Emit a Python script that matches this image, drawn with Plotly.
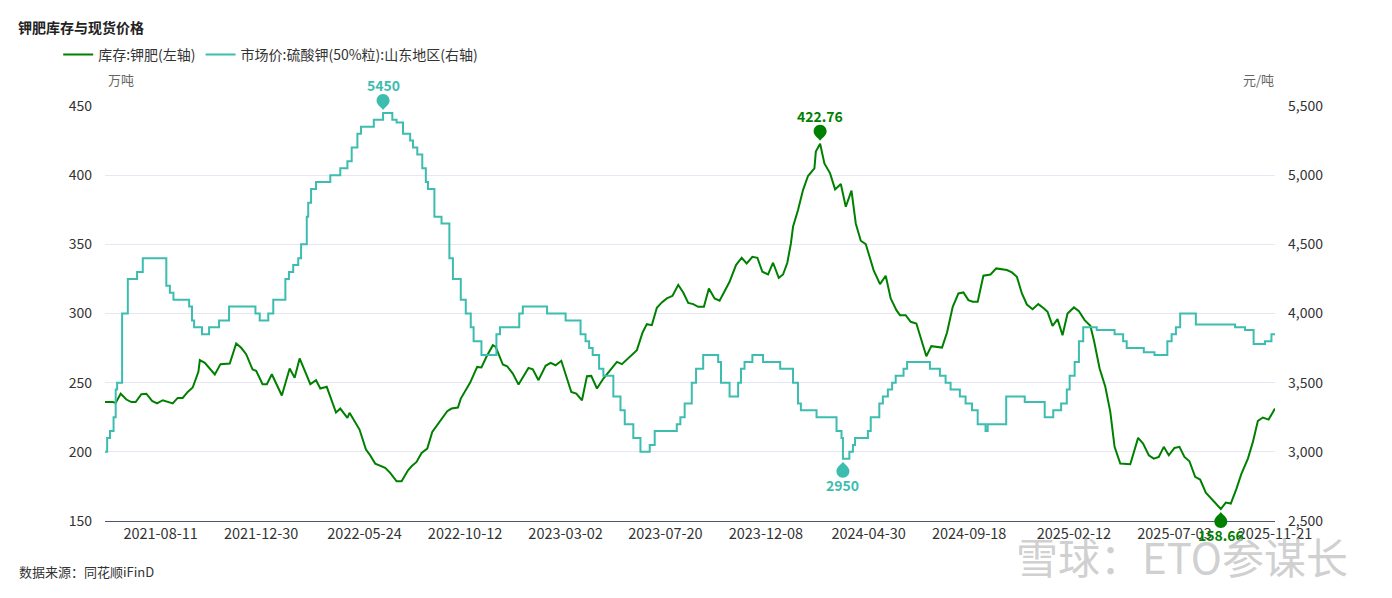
import plotly.graph_objects as go

# ---------------- data ----------------
inv_dates = [
    "2021-05-25", "2021-06-05", "2021-06-09", "2021-06-16", "2021-06-24", "2021-07-01", "2021-07-07",
    "2021-07-15", "2021-07-22", "2021-07-30", "2021-08-06", "2021-08-14", "2021-08-28", "2021-09-04",
    "2021-09-11", "2021-09-18", "2021-09-25", "2021-10-03", "2021-10-05", "2021-10-12", "2021-10-26",
    "2021-11-03", "2021-11-16", "2021-11-25", "2021-12-02", "2021-12-09", "2021-12-18", "2021-12-23",
    "2022-01-01", "2022-01-07", "2022-01-14", "2022-01-21", "2022-01-28", "2022-02-08", "2022-02-15",
    "2022-02-22", "2022-03-01", "2022-03-09", "2022-03-17", "2022-03-23", "2022-04-01", "2022-04-14",
    "2022-04-20", "2022-04-30", "2022-05-03", "2022-05-17", "2022-05-26", "2022-05-31", "2022-06-08",
    "2022-06-22", "2022-06-29", "2022-07-08", "2022-07-15", "2022-07-24", "2022-07-29", "2022-08-05",
    "2022-08-12", "2022-08-20", "2022-08-27", "2022-09-04", "2022-09-17", "2022-09-23", "2022-10-02",
    "2022-10-06", "2022-10-19", "2022-10-29", "2022-11-04", "2022-11-11", "2022-11-20", "2022-11-24",
    "2022-12-04", "2022-12-10", "2022-12-18", "2022-12-26", "2023-01-02", "2023-01-09", "2023-01-15",
    "2023-01-23", "2023-02-02", "2023-02-09", "2023-02-16", "2023-02-24", "2023-03-10", "2023-03-17",
    "2023-03-25", "2023-04-01", "2023-04-07", "2023-04-15", "2023-04-24", "2023-05-03", "2023-05-13",
    "2023-05-20", "2023-05-28", "2023-06-10", "2023-06-18", "2023-06-24", "2023-07-01", "2023-07-08",
    "2023-07-15", "2023-07-22", "2023-07-30", "2023-08-07", "2023-08-14", "2023-08-21", "2023-08-28",
    "2023-09-04", "2023-09-12", "2023-09-19", "2023-09-27", "2023-10-04", "2023-10-18", "2023-10-27",
    "2023-11-04", "2023-11-11", "2023-11-19", "2023-11-26", "2023-12-03", "2023-12-11", "2023-12-18",
    "2023-12-26", "2024-01-01", "2024-01-07", "2024-01-12", "2024-01-15", "2024-01-22", "2024-01-29",
    "2024-02-05", "2024-02-14", "2024-02-16", "2024-02-22", "2024-02-28", "2024-03-07", "2024-03-14",
    "2024-03-22", "2024-03-29", "2024-04-06", "2024-04-12", "2024-04-19", "2024-04-26", "2024-05-07",
    "2024-05-16", "2024-05-24", "2024-05-31", "2024-06-08", "2024-06-13", "2024-06-21", "2024-06-28",
    "2024-07-06", "2024-07-20", "2024-07-27", "2024-08-11", "2024-08-18", "2024-08-26", "2024-09-03",
    "2024-09-10", "2024-09-17", "2024-09-23", "2024-09-30", "2024-10-08", "2024-10-18", "2024-10-26",
    "2024-11-10", "2024-11-17", "2024-11-24", "2024-12-01", "2024-12-08", "2024-12-16", "2024-12-24",
    "2025-01-01", "2025-01-06", "2025-01-13", "2025-01-20", "2025-01-27", "2025-02-03", "2025-02-12",
    "2025-02-19", "2025-02-27", "2025-03-07", "2025-03-12", "2025-03-20", "2025-03-28", "2025-04-04",
    "2025-04-10", "2025-04-18", "2025-05-02", "2025-05-06", "2025-05-13", "2025-05-20", "2025-05-28",
    "2025-06-04", "2025-06-11", "2025-06-18", "2025-06-25", "2025-07-03", "2025-07-10", "2025-07-17",
    "2025-07-24", "2025-08-01", "2025-08-08", "2025-08-16", "2025-08-23", "2025-09-06", "2025-09-13",
    "2025-09-20", "2025-09-28", "2025-10-05", "2025-10-14", "2025-10-21", "2025-10-28", "2025-11-04",
    "2025-11-12", "2025-11-21",
]
inv_values = [
    236, 236, 235.4, 242, 237.8, 236, 236,
    241.7, 242, 236.8, 235, 237.3, 235, 239,
    239, 243.3, 246.5, 257.8, 266.3, 264.3, 255.9,
    263.4, 263.8, 278.3, 275.2, 270.6, 259.5, 258.5,
    248.9, 248.9, 256.1, 248.2, 240.7, 260.2, 253.5,
    267.5, 258.3, 248.9, 251.8, 245.8, 247, 228.4,
    231.3, 224.5, 228.2, 216.1, 201.6, 198.2, 191.5,
    188.4, 184.8, 178.7, 178.7, 186.7, 189.6, 192.7,
    199.2, 202.3, 214.4, 220.4, 229.4, 231.3, 232,
    238.5, 249.9, 261.4, 261, 268.7, 277.1, 275.9,
    263.1, 261.9, 256.6, 248.6, 254.2, 260.7, 259.7,
    251.8, 262.2, 264.3, 262.6, 265.8, 243.3, 242.1,
    237.3, 254.7, 254.9, 245.8, 253, 258.5, 265,
    263.4, 267.5, 273.5, 286.3, 292.3, 291.6, 304.1,
    308, 310.9, 312.8, 320.7, 315.2, 307.7, 306.8,
    304.8, 304.8, 318.1, 310.9, 309.2, 322.9, 335,
    340.3, 336.2, 341, 340.3, 330.2, 328.2, 336.7,
    325.8, 328.2, 336.7, 350.6, 362.7, 374.8, 389.2,
    399.4, 404.9, 417, 422.76, 408.5, 401.3, 389.7,
    393.6, 377.2, 388.8, 365.1, 352.6, 350.2, 331.4,
    321.2, 327.3, 310.9, 302.4, 298.8, 298.8, 294,
    292.8, 269.1, 276.4, 275.4, 286.3, 304.8, 314.5,
    315.2, 309.7, 308.5, 308.5, 327.3, 328.2, 332.6,
    331.4, 329.7, 326.5, 314.5, 306.5, 303.1, 306.8,
    303.6, 301.2, 291.1, 295.9, 284.3, 300, 304.4,
    301.7, 295.2, 291.1, 280.7, 260.2, 247, 228.9,
    203.6, 191.5, 191, 198.7, 210.1, 206, 197.5,
    195.1, 196.3, 203.6, 197.5, 202.8, 203.6, 196.3,
    193.2, 181.9, 180, 170.5, 166.7, 158.66, 163.3,
    162.6, 173.4, 184.3, 195.1, 207.2, 222.4, 224.8,
    223.3, 231.3,
]

price_dates = [
    "2021-05-25", "2021-05-28", "2021-06-01", "2021-06-06", "2021-06-09", "2021-06-11", "2021-06-18",
    "2021-06-26", "2021-07-09", "2021-07-17", "2021-08-19", "2021-08-24", "2021-08-29", "2021-09-20",
    "2021-09-24", "2021-09-27", "2021-10-08", "2021-10-18", "2021-11-01", "2021-11-15", "2021-12-22",
    "2021-12-28", "2022-01-09", "2022-01-16", "2022-02-02", "2022-02-07", "2022-02-13", "2022-02-20",
    "2022-02-24", "2022-03-04", "2022-03-06", "2022-03-10", "2022-03-17", "2022-04-06", "2022-04-20",
    "2022-04-30", "2022-05-06", "2022-05-14", "2022-05-19", "2022-06-06", "2022-06-19", "2022-07-02",
    "2022-07-08", "2022-07-17", "2022-07-27", "2022-07-31", "2022-08-06", "2022-08-13", "2022-08-18",
    "2022-08-21", "2022-08-30", "2022-09-09", "2022-09-20", "2022-09-25", "2022-10-06", "2022-10-13",
    "2022-10-20", "2022-10-24", "2022-11-04", "2022-11-25", "2022-11-30", "2022-12-27", "2023-01-01",
    "2023-02-04", "2023-03-02", "2023-03-23", "2023-03-30", "2023-04-04", "2023-04-09", "2023-04-18",
    "2023-04-24", "2023-05-08", "2023-05-18", "2023-05-24", "2023-06-05", "2023-06-15", "2023-06-28",
    "2023-07-05", "2023-08-05", "2023-08-10", "2023-08-16", "2023-08-26", "2023-09-01", "2023-09-11",
    "2023-10-02", "2023-10-06", "2023-10-18", "2023-10-30", "2023-11-03", "2023-11-08", "2023-11-19",
    "2023-12-04", "2023-12-28", "2024-01-15", "2024-01-22", "2024-01-26", "2024-02-17", "2024-03-16",
    "2024-03-23", "2024-03-25", "2024-04-03", "2024-04-08", "2024-04-11", "2024-04-29", "2024-05-03",
    "2024-05-15", "2024-05-20", "2024-05-27", "2024-06-02", "2024-06-07", "2024-06-18", "2024-06-23",
    "2024-07-25", "2024-08-08", "2024-08-16", "2024-08-23", "2024-09-05", "2024-09-13", "2024-09-22",
    "2024-09-30", "2024-10-11", "2024-10-14", "2024-11-09", "2024-12-05", "2025-01-02", "2025-01-14",
    "2025-01-25", "2025-02-02", "2025-02-06", "2025-02-13", "2025-02-19", "2025-02-25", "2025-03-16",
    "2025-04-10", "2025-04-22", "2025-04-27", "2025-05-21", "2025-06-05", "2025-06-23", "2025-06-29",
    "2025-07-05", "2025-07-11", "2025-08-02", "2025-09-26", "2025-10-10", "2025-10-22", "2025-11-07",
    "2025-11-16", "2025-11-21",
]
price_values = [
    3000, 3100, 3150, 3250, 3450, 3500, 4000,
    4250, 4300, 4400, 4200, 4150, 4100, 4050,
    3950, 3900, 3850, 3900, 3950, 4050, 4000,
    3950, 4000, 4100, 4250, 4300, 4350, 4400,
    4500, 4700, 4800, 4900, 4950, 5000, 5050,
    5100, 5200, 5300, 5350, 5400, 5450, 5400,
    5380, 5300, 5250, 5200, 5150, 5050, 4950,
    4900, 4700, 4650, 4400, 4250, 4100, 4000,
    3900, 3800, 3700, 3850, 3900, 4000, 4050,
    4000, 3950, 3850, 3800, 3750, 3700, 3600,
    3550, 3400, 3300, 3200, 3100, 3000, 3050,
    3150, 3200, 3250, 3350, 3500, 3600, 3700,
    3650, 3500, 3400, 3500, 3600, 3650, 3700,
    3650, 3600, 3500, 3350, 3300, 3250, 3150,
    3100, 2950, 3000, 3050, 3100, 3150, 3250,
    3350, 3400, 3450, 3500, 3550, 3600, 3650,
    3600, 3550, 3500, 3450, 3400, 3350, 3300,
    3200, 3150, 3200, 3400, 3360, 3250, 3300,
    3350, 3450, 3550, 3650, 3800, 3900, 3880,
    3850, 3800, 3750, 3720, 3700, 3800, 3850,
    3900, 4000, 3920, 3900, 3880, 3780, 3800,
    3850, 3850,
]

tick_labels = [
    "2021-08-11", "2021-12-30", "2022-05-24", "2022-10-12", "2023-03-02", "2023-07-20",
    "2023-12-08", "2024-04-30", "2024-09-18", "2025-02-12", "2025-07-03", "2025-11-21",
]

inv_name = "库存:钾肥(左轴)"
price_name = "市场价:硫酸钾(50%粒):山东地区(右轴)"

LEFT_RANGE = [150, 450]
RIGHT_RANGE = [2500, 5500]

# ---------------- style ----------------
GREEN = "#008000"
TEAL = "#3DBDB0"
FONT = "Noto Sans CJK SC, Noto Sans, sans-serif"
TXT = "#333333"

fig = go.Figure()
fig.add_trace(go.Scatter(x=inv_dates, y=inv_values, name=inv_name, mode="lines",
                         line=dict(color=GREEN, width=2), yaxis="y"))
fig.add_trace(go.Scatter(x=price_dates, y=price_values, name=price_name, mode="lines",
                         line=dict(color=TEAL, width=2, shape="hv"), yaxis="y2"))


def pin_path(s):
    tip, cy, r = 3.0, 12.5, 6.5
    k = 0.5523 * r

    def P(x, y):
        return f"{x:.2f},{s * y:.2f}"
    return (f"M{P(0, tip)} C{P(-r * 0.25, tip + 3)} {P(-r, cy - r * 0.75)} {P(-r, cy)} "
            f"C{P(-r, cy + k)} {P(-k, cy + r)} {P(0, cy + r)} "
            f"C{P(k, cy + r)} {P(r, cy + k)} {P(r, cy)} "
            f"C{P(r, cy - r * 0.75)} {P(r * 0.25, tip + 3)} {P(0, tip)} Z")


def mark(dates, values, kind, rng, color, fmt):
    v = max(values) if kind == "max" else min(values)
    d = dates[values.index(v)]
    s = 1 if kind == "max" else -1
    py = (v - rng[0]) / (rng[1] - rng[0])   # value -> paper fraction via the axis range
    fig.add_shape(type="path", xref="x", yref="paper", xsizemode="pixel", ysizemode="pixel",
                  xanchor=d, yanchor=py, path=pin_path(s), fillcolor=color,
                  line=dict(width=0), layer="above")
    fig.add_annotation(x=d, y=py, xref="x", yref="paper", text=fmt.format(v), showarrow=False,
                       xanchor="center", yanchor="middle",
                       yshift=28 if s > 0 else -26,
                       font=dict(family=FONT, size=14, color=color, weight="bold"))


mark(inv_dates, inv_values, "max", LEFT_RANGE, GREEN, "{:.2f}")
mark(inv_dates, inv_values, "min", LEFT_RANGE, GREEN, "{:.2f}")
mark(price_dates, price_values, "max", RIGHT_RANGE, TEAL, "{:d}")
mark(price_dates, price_values, "min", RIGHT_RANGE, TEAL, "{:d}")

# axis unit labels
fig.add_annotation(text="万吨", xref="paper", yref="paper", x=0.001, y=1.065,
                   xanchor="left", yanchor="middle", showarrow=False,
                   font=dict(family=FONT, size=13, color="#666666"))
fig.add_annotation(text="元/吨", xref="paper", yref="paper", x=1.001, y=1.065,
                   xanchor="right", yanchor="middle", showarrow=False,
                   font=dict(family=FONT, size=13, color="#666666"))
# source
fig.add_annotation(text="数据来源：同花顺iFinD", xref="paper", yref="paper", x=-0.0755, y=-0.122,
                   xanchor="left", yanchor="middle", showarrow=False,
                   font=dict(family=FONT, size=13, color=TXT))
# watermark
fig.add_annotation(text="雪球：ETO参谋长", xref="paper", yref="paper", x=1.064, y=-0.083,
                   xanchor="right", yanchor="middle", showarrow=False,
                   font=dict(family=FONT, size=42, color="rgba(195,195,195,0.8)"))

fig.update_layout(
    template="none",
    width=1384, height=590,
    margin=dict(l=97, r=117, t=98, b=77, autoexpand=False),
    paper_bgcolor="white", plot_bgcolor="white",
    font=dict(family=FONT, size=14, color=TXT),
    title=dict(text="钾肥库存与现货价格", x=0.0072, xref="container", xanchor="left",
               y=0.966, yref="container", yanchor="middle",
               font=dict(family=FONT, size=14, color="#222222", weight="bold")),
    showlegend=True,
    legend=dict(orientation="h", x=-0.040, xanchor="left", y=1.123, yanchor="middle",
                font=dict(family=FONT, size=14, color=TXT), bgcolor="rgba(0,0,0,0)",
                itemwidth=30),
    xaxis=dict(type="date", range=["2021-05-25", "2025-11-21"],
               tickvals=tick_labels, ticktext=tick_labels, tickangle=0,
               showgrid=False, zeroline=False, showline=True, linecolor="#4E5570", linewidth=1,
               ticks="", tickfont=dict(family=FONT, size=14.5, color=TXT), automargin=False),
    yaxis=dict(range=LEFT_RANGE, tick0=150, dtick=50, showgrid=True, gridcolor="#E6E7F2",
               gridwidth=1, zeroline=False, showline=False, ticks="", ticklabelstandoff=12,
               tickfont=dict(family=FONT, size=14, color=TXT), automargin=False),
    yaxis2=dict(range=RIGHT_RANGE, tick0=2500, dtick=500, overlaying="y", side="right",
                showgrid=False, zeroline=False, showline=False, ticks="", tickformat=",",
                ticklabelstandoff=12, tickfont=dict(family=FONT, size=14, color=TXT),
                automargin=False),
)

fig.write_html("out.html")
